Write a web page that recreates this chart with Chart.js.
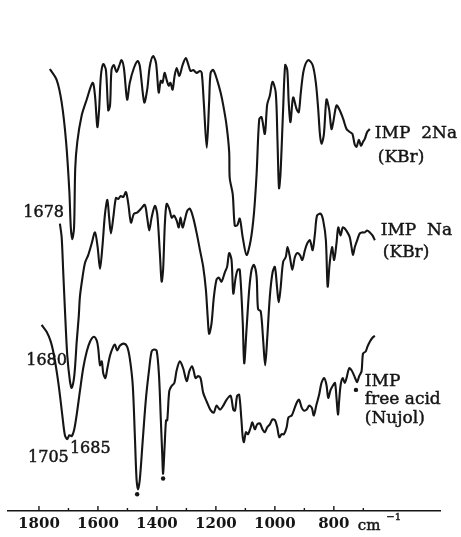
<!DOCTYPE html>
<html>
<head>
<meta charset="utf-8">
<script src="https://cdn.jsdelivr.net/npm/chart.js@4.4.1/dist/chart.umd.min.js"></script>
<style>
  html, body { margin: 0; padding: 0; background: #ffffff; }
  #wrap { position: relative; width: 461px; height: 537px; }
</style>
</head>
<body>
<div id="wrap"><canvas id="irChart"></canvas></div>
<script>
// IR spectra of IMP salts, wavenumber (cm-1) vs. transmittance (arbitrary, traces offset)

// IMP 2Na (KBr)
const wn2Na = [1763, 1740, 1723, 1708, 1697, 1692, 1687, 1681, 1677, 1670, 1655, 1638, 1618, 1610, 1602, 1596, 1590, 1582, 1573, 1565,
    1559, 1554, 1546, 1537, 1528, 1520, 1512, 1501, 1492, 1478, 1465, 1458, 1443, 1433, 1424, 1413, 1403, 1394, 1387, 1381,
    1374, 1367, 1360, 1354, 1347, 1340, 1333, 1324, 1313, 1302, 1293, 1286, 1277, 1265, 1254, 1248, 1241, 1231, 1223, 1218,
    1209, 1196, 1184, 1175, 1164, 1155, 1153, 1143, 1136, 1128, 1119, 1109, 1096, 1082, 1071, 1062, 1053, 1045, 1034, 1026,
    1017, 1008, 997, 991, 986, 981, 972, 965, 958, 953, 947, 938, 926, 919, 912, 902, 887, 872, 861, 853,
    847, 842, 834, 825, 816, 808, 802, 791, 780, 768, 757, 746, 737, 729, 723, 715, 708, 701, 695, 687, 678];
const t2Na = [449, 438, 415, 375, 325, 288, 276, 288, 348, 375, 402, 418, 435, 422, 390, 408, 442, 454, 448, 407,
    412, 448, 453, 446, 452, 458, 450, 418, 435, 450, 457, 452, 415, 428, 452, 462, 455, 425, 437, 435,
    445, 438, 432, 435, 428, 442, 450, 442, 453, 460, 453, 447, 448, 445, 447, 445, 415, 369, 415, 445,
    448, 438, 425, 412, 392, 365, 338, 322, 290, 290, 297, 278, 260, 275, 302, 342, 398, 400, 383, 413,
    422, 436, 425, 375, 328, 342, 408, 453, 448, 415, 395, 420, 408, 405, 425, 448, 458, 453, 435, 408,
    382, 373, 382, 418, 408, 388, 395, 412, 407, 398, 388, 385, 383, 372, 370, 377, 371, 375, 378, 385, 388];

// IMP Na (KBr)
const wnNa = [1729, 1723, 1718, 1712, 1704, 1695, 1689, 1680, 1672, 1665, 1661, 1652, 1644, 1633, 1621, 1610, 1601, 1593, 1585, 1576,
    1568, 1562, 1556, 1548, 1539, 1531, 1523, 1514, 1505, 1497, 1488, 1478, 1467, 1454, 1441, 1433, 1426, 1418, 1407, 1399,
    1390, 1384, 1379, 1373, 1367, 1358, 1350, 1342, 1333, 1326, 1320, 1313, 1306, 1297, 1288, 1277, 1265, 1254, 1243, 1234,
    1228, 1223, 1215, 1207, 1198, 1190, 1181, 1169, 1162, 1155, 1147, 1141, 1133, 1126, 1119, 1109, 1104, 1096, 1087, 1079,
    1071, 1062, 1057, 1048, 1040, 1033, 1026, 1017, 1008, 1000, 992, 987, 981, 972, 963, 957, 949, 941, 932, 924,
    915, 907, 898, 890, 881, 872, 864, 857, 845, 836, 827, 821, 814, 806, 799, 791, 785, 777, 770, 763,
    752, 746, 740, 735, 729, 721, 712, 703, 695, 687, 678, 669, 661];
const tNa = [292, 278, 245, 205, 158, 132, 125, 138, 172, 198, 218, 238, 252, 260, 272, 283, 268, 246, 268, 302,
    316, 298, 282, 298, 318, 317, 320, 319, 324, 312, 293, 302, 303, 307, 311, 298, 285, 298, 310, 302,
    262, 233, 245, 292, 312, 307, 298, 300, 295, 288, 298, 288, 295, 305, 307, 298, 282, 265, 248, 225,
    198, 180, 190, 217, 235, 237, 233, 243, 248, 262, 255, 221, 237, 245, 245, 192, 150, 185, 225, 245,
    250, 238, 205, 203, 175, 148, 175, 218, 242, 248, 225, 212, 225, 253, 258, 268, 258, 245, 258, 262,
    260, 255, 265, 272, 275, 265, 282, 300, 302, 295, 275, 228, 252, 268, 255, 272, 288, 280, 288, 287,
    282, 278, 268, 260, 268, 275, 282, 283, 283, 285, 283, 280, 275];

// IMP free acid (Nujol)
const wnAcid = [1791, 1774, 1760, 1749, 1738, 1729, 1720, 1712, 1704, 1697, 1689, 1681, 1672, 1661, 1650, 1638, 1627, 1614, 1604, 1599,
    1593, 1587, 1582, 1575, 1568, 1559, 1548, 1542, 1535, 1525, 1512, 1501, 1492, 1482, 1475, 1469, 1464, 1458, 1448, 1437,
    1426, 1418, 1410, 1401, 1393, 1387, 1382, 1379, 1374, 1369, 1365, 1358, 1350, 1341, 1333, 1322, 1311, 1299, 1290, 1281,
    1275, 1269, 1260, 1252, 1243, 1231, 1219, 1207, 1198, 1186, 1175, 1164, 1150, 1141, 1135, 1128, 1121, 1114, 1109, 1105,
    1098, 1091, 1082, 1076, 1068, 1060, 1051, 1042, 1034, 1026, 1017, 1008, 999, 992, 985, 977, 969, 960, 954, 943,
    936, 926, 918, 909, 902, 892, 884, 875, 868, 859, 850, 842, 833, 825, 819, 811, 802, 796, 791, 786,
    782, 777, 770, 763, 757, 748, 740, 732, 725, 721, 714, 706, 701, 692, 686, 678, 669, 661];
const tAcid = [189, 182, 172, 158, 138, 118, 95, 77, 73, 77, 76, 82, 98, 122, 145, 162, 172, 177, 173, 165,
    148, 152, 140, 135, 145, 158, 167, 169, 163, 168, 170, 167, 155, 128, 78, 32, 22, 32, 72, 115,
    145, 162, 164, 163, 138, 95, 58, 38, 65, 92, 92, 122, 127, 130, 143, 152, 145, 132, 142, 147,
    142, 135, 137, 135, 120, 111, 103, 100, 107, 103, 107, 113, 117, 103, 102, 117, 118, 95, 75, 70,
    80, 78, 85, 90, 83, 88, 89, 83, 80, 85, 88, 93, 92, 85, 75, 78, 78, 85, 95, 97,
    102, 110, 113, 105, 102, 103, 107, 105, 97, 108, 118, 130, 135, 128, 115, 123, 128, 130, 115, 98,
    112, 128, 135, 130, 135, 145, 143, 138, 133, 131, 137, 142, 160, 162, 167, 172, 176, 178];

// Nujol bands marked with a dot under the free acid trace
const nujolWn = [1467, 1379, 725];
const nujolT = [17, 33, 123];

// x axis
const tickValues = [1800, 1700, 1600, 1500, 1400, 1300, 1200, 1100, 1000, 900, 800, 700];
const labeledTicks = [1800, 1600, 1400, 1200, 1000, 800];

const INK = '#151515';
const SERIF = "'DejaVu Serif', 'Liberation Serif', serif";

function toPoints(xs, ys) {
    return xs.map((v, i) => ({ x: v, y: ys[i] }));
}

// labels, ticks pointing up and the cm-1 unit
const spectrumLabels = {
    id: 'spectrumLabels',
    afterDraw(chart) {
        const { ctx, scales: { x, y } } = chart;
        ctx.save();
        ctx.strokeStyle = INK;
        ctx.lineWidth = 1.4;
        tickValues.forEach(v => {
            const px = x.getPixelForValue(v);
            const len = labeledTicks.includes(v) ? 5 : 3;
            ctx.beginPath(); ctx.moveTo(px, y.bottom); ctx.lineTo(px, y.bottom - len); ctx.stroke();
        });

        ctx.fillStyle = INK;
        ctx.textBaseline = 'middle';
        ctx.lineWidth = 0.45;
        const put = (text, wn, t, align, size) => {
            ctx.font = `${size}px ${SERIF}`;
            ctx.textAlign = align;
            const px = x.getPixelForValue(wn), py = y.getPixelForValue(t);
            ctx.fillText(text, px, py);
            ctx.strokeText(text, px, py); // heavier print look
        };
        put('IMP  2Na', 661, 383, 'left', 17);
        put('(KBr)', 651, 359, 'left', 17);
        put('IMP  Na', 641, 285, 'left', 17);
        put('(KBr)', 634, 263, 'left', 17);
        put('IMP', 695, 131, 'left', 17);
        put('free acid', 695, 113, 'left', 17);
        put('(Nujol)', 695, 94, 'left', 17);
        put('1678', 1715, 303, 'right', 16);
        put('1680', 1705, 153, 'right', 16);
        put('1705', 1837, 54, 'left', 16);
        put('1685', 1695, 63, 'left', 16);
        put('cm', 719, -15, 'left', 15);
        put('\u22121', 622, -7, 'left', 10);
        ctx.restore();
    }
};

function createSpectrumChart(canvasId) {
    const ctx = document.getElementById(canvasId);
    if (!ctx) { console.error(`Chart Error: Canvas element #${canvasId} not found.`); return; }

    const traceStyle = { borderColor: INK, borderWidth: 2.1, pointRadius: 0, tension: 0.3, fill: false, showLine: true };
    const chartData = {
        datasets: [
            { label: 'IMP 2Na (KBr)', data: toPoints(wn2Na, t2Na), ...traceStyle },
            { label: 'IMP Na (KBr)', data: toPoints(wnNa, tNa), ...traceStyle },
            { label: 'IMP free acid (Nujol)', data: toPoints(wnAcid, tAcid), ...traceStyle },
            { label: 'Nujol', data: toPoints(nujolWn, nujolT), showLine: false, pointRadius: 2.2, backgroundColor: INK, borderWidth: 0 }
        ]
    };
    const chartOptions = {
        responsive: true, maintainAspectRatio: false, animation: false,
        layout: { padding: { left: 8, right: 21, top: 0, bottom: 0 } },
        scales: {
            x: {
                type: 'linear', reverse: true, min: 440, max: 1905,
                afterBuildTicks: scale => { scale.ticks = tickValues.map(v => ({ value: v })); },
                grid: { display: true, drawOnChartArea: false, drawTicks: false },
                border: { display: true, color: INK, width: 1.6 },
                ticks: {
                    color: INK, padding: 4, maxRotation: 0, autoSkip: false,
                    font: { family: SERIF, size: 15, weight: '600' },
                    callback: v => labeledTicks.includes(v) ? String(v) : ''
                }
            },
            y: { type: 'linear', display: false, min: 0, max: 515 }
        },
        plugins: { legend: { display: false }, tooltip: { enabled: false }, title: { display: false } }
    };

    try { new Chart(ctx, { type: 'scatter', data: chartData, options: chartOptions, plugins: [spectrumLabels] }); console.log(`Chart "${canvasId}" initialized.`); }
    catch (error) { console.error(`Error initializing chart #${canvasId}:`, error); }
}

createSpectrumChart('irChart');
</script>
</body>
</html>
